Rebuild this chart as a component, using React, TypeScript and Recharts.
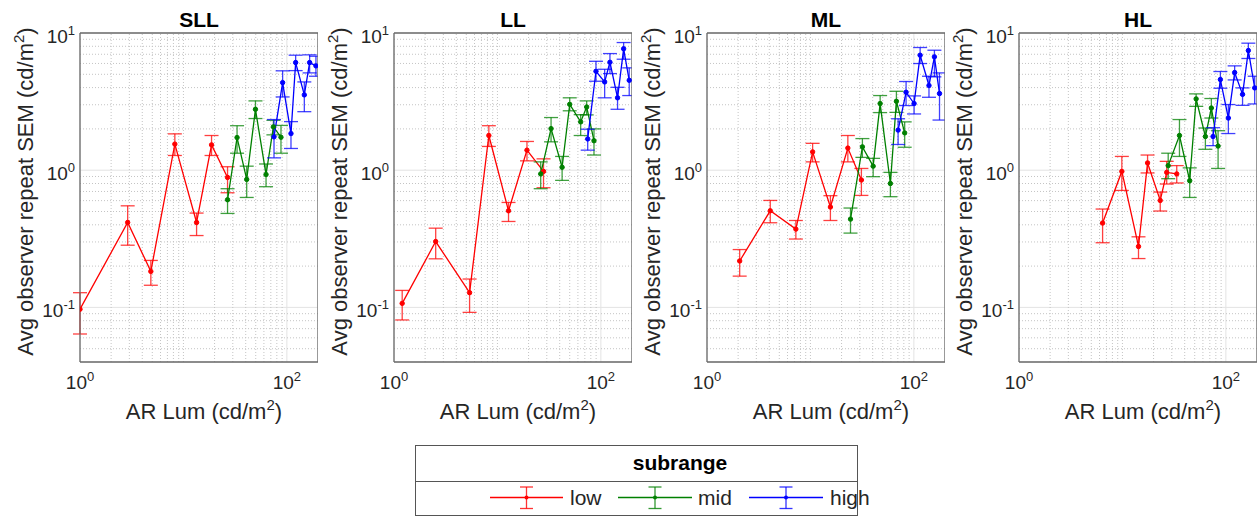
import React from 'react';
import { LineChart, Line, XAxis, YAxis, CartesianGrid, ErrorBar, ReferenceLine } from 'recharts';

type Pt = [number, number, number, number]; // [x, y, lower, upper]

const panelTitles = ['SLL', 'LL', 'ML', 'HL'];
const seriesNames = ['low', 'mid', 'high'];
const seriesColors = ['#ff0000', '#008000', '#0000ff'];

const sllLow: Pt[] = [[1.0, 0.097, 0.064, 0.128], [2.89, 0.416, 0.284, 0.55], [4.84, 0.183, 0.145, 0.22], [8.26, 1.55, 1.28, 1.84], [13.4, 0.416, 0.334, 0.487], [18.7, 1.53, 1.28, 1.79], [26.7, 0.886, 0.685, 1.06]];
const sllMid: Pt[] = [[26.7, 0.609, 0.484, 0.733], [33, 1.73, 1.33, 2.11], [40.9, 0.857, 0.633, 1.07], [49.7, 2.78, 2.38, 3.2], [62.9, 0.93, 0.758, 1.11], [74.1, 2.07, 1.81, 2.31], [87.7, 1.74, 1.33, 2.12]];
const sllHigh: Pt[] = [[75.1, 1.75, 1.23, 2.34], [91, 4.35, 3.42, 5.3], [109.6, 1.85, 1.44, 2.26], [121.6, 6.09, 5.32, 6.89], [147.5, 3.54, 2.67, 4.4], [166, 6.09, 5.12, 6.93], [191, 5.76, 4.84, 6.77]];

const llLow: Pt[] = [[1.2, 0.107, 0.081, 0.133], [2.53, 0.302, 0.226, 0.378], [5.38, 0.128, 0.092, 0.161], [8.26, 1.79, 1.49, 2.11], [12.8, 0.506, 0.423, 0.582], [19.3, 1.4, 1.17, 1.62], [27.9, 0.98, 0.745, 1.21]];
const llMid: Pt[] = [[26.2, 0.94, 0.733, 1.15], [33, 2.01, 1.61, 2.42], [42.2, 1.05, 0.843, 1.26], [50, 3.02, 2.71, 3.37], [63.8, 2.25, 1.79, 2.54], [72.9, 2.89, 2.53, 3.2], [85.8, 1.64, 1.29, 2.0]];
const llHigh: Pt[] = [[74.6, 1.69, 1.4, 1.99], [89.7, 5.26, 4.45, 6.22], [108.8, 4.4, 3.37, 5.44], [122.4, 6.12, 5.06, 7.08], [145, 3.37, 2.78, 4.02], [166, 7.67, 6.44, 8.52], [188, 4.52, 3.5, 5.57]];

const mlLow: Pt[] = [[2.07, 0.218, 0.169, 0.264], [4.09, 0.506, 0.414, 0.602], [7.23, 0.372, 0.315, 0.43], [10.5, 1.36, 1.15, 1.57], [15.6, 0.539, 0.43, 0.652], [23, 1.45, 1.15, 1.79], [31.1, 0.848, 0.655, 1.03]];
const mlMid: Pt[] = [[24.4, 0.44, 0.348, 0.53], [31.8, 1.48, 1.24, 1.7], [40.4, 1.07, 0.897, 1.22], [47.2, 3.06, 2.63, 3.5], [59.3, 0.8, 0.641, 0.964], [67.8, 3.18, 2.64, 3.76], [81.5, 1.87, 1.47, 2.25]];
const mlHigh: Pt[] = [[70.4, 1.96, 1.54, 2.37], [84.1, 3.7, 2.96, 4.43], [100.5, 3.06, 2.57, 3.48], [115, 6.89, 5.99, 7.84], [140, 4.14, 3.4, 4.84], [158, 6.7, 4.79, 7.49], [177, 3.62, 2.32, 5.12]];

const hlLow: Pt[] = [[6.43, 0.412, 0.296, 0.521], [9.87, 0.98, 0.712, 1.26], [14.3, 0.278, 0.227, 0.327], [17.5, 1.13, 0.955, 1.29], [23.2, 0.602, 0.504, 0.693], [26.8, 0.964, 0.793, 1.16], [33.5, 0.94, 0.807, 1.08]];
const hlMid: Pt[] = [[27.7, 1.08, 0.867, 1.33], [35.6, 1.79, 1.26, 2.34], [44.7, 0.838, 0.633, 1.04], [51.6, 3.31, 2.92, 3.6], [63.4, 1.76, 1.42, 2.03], [72.4, 2.84, 2.4, 3.33], [84.1, 1.5, 1.03, 1.94]];
const hlHigh: Pt[] = [[75.2, 1.76, 1.51, 2.04], [88.5, 4.58, 3.96, 5.24], [105.7, 2.4, 1.85, 3.01], [121.6, 5.15, 4.55, 5.76], [145, 3.57, 2.97, 3.98], [165, 7.45, 6.52, 8.43], [190, 3.98, 3.04, 4.84]];

const panelSeries: Pt[][][] = [
  [sllLow, sllMid, sllHigh],
  [llLow, llMid, llHigh],
  [mlLow, mlMid, mlHigh],
  [hlLow, hlMid, hlHigh],
];

const xDomain: [number, number] = [1, 200];
const yDomain: [number, number] = [0.04, 10];
const xMajorTicks = [1, 100];
const yMajorTicks = [0.1, 1, 10];
const xMinorTicks = [2, 3, 4, 5, 6, 7, 8, 9, 10, 20, 30, 40, 50, 60, 70, 80, 90];
const yMinorTicks = [0.05, 0.06, 0.07, 0.08, 0.09, 0.2, 0.3, 0.4, 0.5, 0.6, 0.7, 0.8, 0.9, 2, 3, 4, 5, 6, 7, 8, 9];
const xAllTicks = [1, ...xMinorTicks, 100, 200];
const yAllTicks = [0.04, ...yMinorTicks.slice(0, 5), 0.1, ...yMinorTicks.slice(5, 13), 1, ...yMinorTicks.slice(13), 10];

const xLabel = 'AR Lum (cd/m';
const yLabel = 'Avg observer repeat SEM (cd/m';
const legendTitle = 'subrange';

// layout
const plotLefts = [80, 394, 707, 1019];
const PLOT_TOP = 33;
const PLOT_W = 238;
const PLOT_H = 329;
const Y_AXIS_W = 80;
const CHART_H = 430;
const FONT = '"Liberation Sans", Arial, Helvetica, sans-serif';
const TXT = '#262626';
const BOX = '#6a6a6a';

const XTick = (props: any) => {
  const { x, y, payload } = props;
  const exp = Math.round(Math.log10(payload.value));
  return (
    <text x={x} y={y + 27} textAnchor="middle" fontSize={19} fill={TXT} fontFamily={FONT}>
      10<tspan dy={-8} fontSize={13}>{exp}</tspan>
    </text>
  );
};

const YTick = (props: any) => {
  const { x, y, payload } = props;
  const exp = Math.round(Math.log10(payload.value));
  return (
    <text x={x - 5} y={y + 9.5} textAnchor="end" fontSize={19} fill={TXT} fontFamily={FONT}>
      10<tspan dy={-8} fontSize={13}>{exp}</tspan>
    </text>
  );
};

function Panel({ idx }: { idx: number }) {
  const W = Y_AXIS_W + PLOT_W;
  const series = panelSeries[idx];
  return (
    <div style={{ position: 'absolute', left: plotLefts[idx] - Y_AXIS_W, top: 0, width: W, height: CHART_H }}>
      <LineChart width={W} height={CHART_H} margin={{ top: PLOT_TOP, right: 0, bottom: 0, left: 0 }}>
        <CartesianGrid stroke="#e3e3e3" strokeWidth={1} />
        {xMinorTicks.map((v) => (
          <ReferenceLine key={'gx' + v} x={v} stroke="#c4c4c4" strokeWidth={1} strokeDasharray="1 2" />
        ))}
        {yMinorTicks.map((v) => (
          <ReferenceLine key={'gy' + v} y={v} stroke="#c4c4c4" strokeWidth={1} strokeDasharray="1 2" />
        ))}
        <XAxis
          type="number"
          dataKey="x"
          scale="log"
          domain={xDomain}
          allowDataOverflow
          ticks={xMajorTicks}
          interval={0}
          tick={<XTick />}
          tickLine={false}
          tickSize={0}
          tickMargin={0}
          axisLine={{ stroke: BOX, strokeWidth: 1.3 }}
          height={CHART_H - PLOT_TOP - PLOT_H}
        />
        <XAxis
          xAxisId="bm"
          type="number"
          scale="log"
          domain={xDomain}
          allowDataOverflow
          ticks={xAllTicks}
          interval={0}
          mirror
          tick={false}
          tickSize={3}
          axisLine={false}
          tickLine={{ stroke: BOX }}
        />
        <XAxis
          xAxisId="tm"
          orientation="top"
          type="number"
          scale="log"
          domain={xDomain}
          allowDataOverflow
          ticks={xAllTicks}
          interval={0}
          mirror
          tick={false}
          tickSize={3}
          axisLine={{ stroke: BOX, strokeWidth: 1.3 }}
          tickLine={{ stroke: BOX }}
        />
        <YAxis
          type="number"
          scale="log"
          domain={yDomain}
          allowDataOverflow
          ticks={yMajorTicks}
          interval={0}
          tick={<YTick />}
          tickLine={false}
          tickSize={0}
          tickMargin={0}
          axisLine={{ stroke: BOX, strokeWidth: 1.3 }}
          width={Y_AXIS_W}
        />
        <YAxis
          yAxisId="lm"
          type="number"
          scale="log"
          domain={yDomain}
          allowDataOverflow
          ticks={yAllTicks}
          interval={0}
          mirror
          tick={false}
          tickSize={3}
          axisLine={false}
          tickLine={{ stroke: BOX }}
        />
        <YAxis
          yAxisId="rm"
          orientation="right"
          type="number"
          scale="log"
          domain={yDomain}
          allowDataOverflow
          ticks={yAllTicks}
          interval={0}
          mirror
          tick={false}
          tickSize={3}
          axisLine={{ stroke: BOX, strokeWidth: 1.3 }}
          tickLine={{ stroke: BOX }}
        />
        {series.map((pts, si) => {
          const rows = pts.map(([x, y, lo, hi]) => ({ x, y, e: [y - lo, hi - y] }));
          const c = seriesColors[si];
          return (
            <Line
              key={seriesNames[si]}
              data={rows}
              dataKey="y"
              name={seriesNames[si]}
              stroke={c}
              strokeWidth={1.3}
              dot={{ r: 2.2, fill: c, stroke: c, strokeWidth: 1 }}
              activeDot={false}
              isAnimationActive={false}
            >
              <ErrorBar dataKey="e" direction="y" width={7} stroke={c} strokeWidth={1.3} strokeOpacity={0.75} isAnimationActive={false} />
            </Line>
          );
        })}
      </LineChart>
    </div>
  );
}

function Overlay() {
  const legendItems = [
    { x1: 490, x2: 563, tx: 570 },
    { x1: 618, x2: 692, tx: 698 },
    { x1: 749, x2: 823, tx: 830 },
  ];
  const ly = 497.5;
  return (
    <svg width={1258} height={516} style={{ position: 'absolute', left: 0, top: 0 }} fontFamily={FONT}>
      {plotLefts.map((L, i) => {
        const cx = L + PLOT_W / 2;
        const cy = PLOT_TOP + PLOT_H / 2;
        return (
          <g key={i}>
            <text x={cx} y={27} textAnchor="middle" fontSize={21} fontWeight="bold" fill="#000">
              {panelTitles[i]}
            </text>
            <text x={cx + 5} y={419} textAnchor="middle" fontSize={22} fill={TXT}>
              {xLabel}
              <tspan dy={-9} fontSize={15}>2</tspan>
              <tspan dy={9}>)</tspan>
            </text>
            <text
              transform={`translate(${L - 47}, ${cy - 6}) rotate(-90)`}
              textAnchor="middle"
              fontSize={22}
              fill={TXT}
            >
              {yLabel}
              <tspan dy={-9} fontSize={15}>2</tspan>
              <tspan dy={9}>)</tspan>
            </text>
          </g>
        );
      })}
      <rect x={415.5} y={445.5} width={442} height={70} fill="#fff" stroke="#555" strokeWidth={1} />
      <line x1={415.5} x2={857.5} y1={481.5} y2={481.5} stroke="#555" strokeWidth={1} />
      <text x={680} y={470} textAnchor="middle" fontSize={21} fontWeight="bold" fill="#000">
        {legendTitle}
      </text>
      {legendItems.map((it, i) => {
        const c = seriesColors[i];
        const mx = (it.x1 + it.x2) / 2;
        return (
          <g key={i}>
            <line x1={it.x1} x2={it.x2} y1={ly} y2={ly} stroke={c} strokeWidth={1.3} />
            <line x1={mx} x2={mx} y1={487} y2={508.5} stroke={c} strokeWidth={1.3} strokeOpacity={0.8} />
            <line x1={mx - 6.5} x2={mx + 6.5} y1={487} y2={487} stroke={c} strokeWidth={1.3} strokeOpacity={0.8} />
            <line x1={mx - 6.5} x2={mx + 6.5} y1={508.5} y2={508.5} stroke={c} strokeWidth={1.3} strokeOpacity={0.8} />
            <circle cx={mx} cy={ly} r={2} fill={c} />
            <text x={it.tx} y={505} fontSize={21} fill={TXT}>
              {seriesNames[i]}
            </text>
          </g>
        );
      })}
    </svg>
  );
}

export default function App() {
  return (
    <div style={{ position: 'absolute', left: 0, top: 0, width: 1258, height: 516, overflow: 'hidden', background: '#fff' }}>
      {panelTitles.map((t, i) => (
        <Panel key={t} idx={i} />
      ))}
      <Overlay />
    </div>
  );
}
